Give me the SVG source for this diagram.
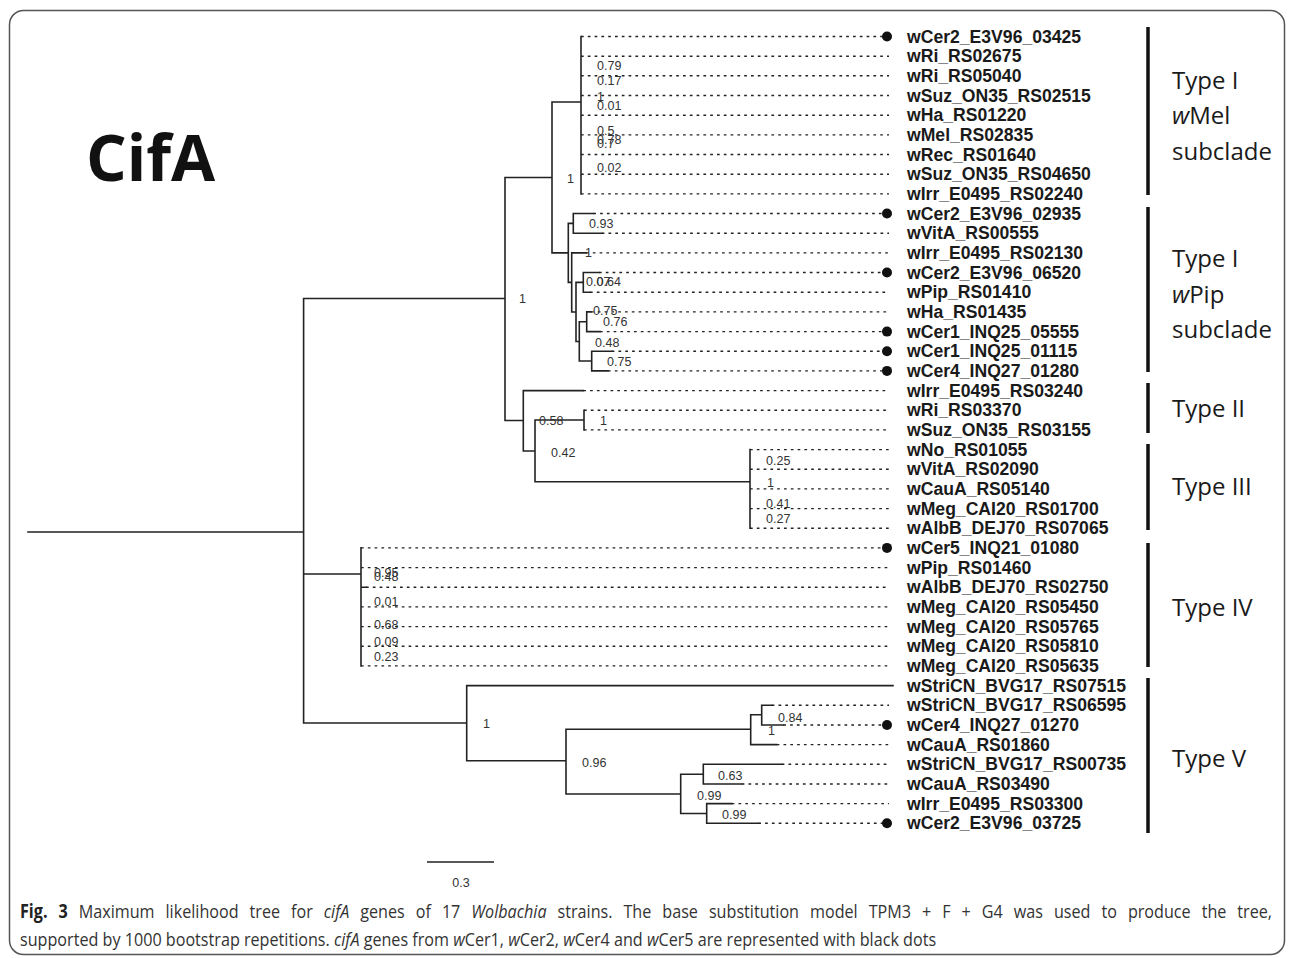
<svg xmlns="http://www.w3.org/2000/svg" width="1293" height="958" viewBox="0 0 1293 958">
<style>
.br{stroke:#222;stroke-width:1.6;fill:none;stroke-linecap:square}
.dt{stroke:#222;stroke-width:1.4;stroke-dasharray:2.7 4.1;fill:none}
.lf{font-family:"Liberation Sans",Arial,sans-serif;font-weight:bold;font-size:17.6px;fill:#1a1a1a}
.sp{font-family:"Liberation Sans",Arial,sans-serif;font-size:12.5px;fill:#333}
.ty{font-family:"Open Sans",sans-serif;font-size:24px;fill:#1a1a1a}
.cap{font-family:"Open Sans",sans-serif;font-size:19px;fill:#333}
.dot{fill:#111}
.bar{stroke:#111;stroke-width:3.5}
</style>
<rect x="9.5" y="10.5" width="1275" height="944" rx="14" fill="#fff" stroke="#555" stroke-width="1.5"/>
<text x="86" y="181" font-family="Open Sans, sans-serif" font-weight="bold" font-size="64" fill="#111">CifA</text>

<g id="connectors">
<path class="br" d="M28,532H303.6 M303.6,298.5V723 M303.6,298.5H505 M505,177.5V420.5 M505,177.5H552 M552,102V252.9 M552,102H581 M581,36.5V193.9
M552,252.9H568.3 M568.3,223.4V282.4 M568.3,223.4H573.3 M573.3,213.5V233.2 M573.3,213.5H593.3 M573.3,233.2H601.7
M568.3,282.4H571.7 M571.7,252.9V312 M571.7,252.9H586 M571.7,312H576 M576,282.4V341.5 M576,282.4H583.3 M583.3,272.5V292.2 M583.3,272.5H599 M583.3,292.2H590
M576,341.5H579.3 M579.3,321.7V361 M579.3,321.7H586.7 M586.7,311.9V331.6 M586.7,311.9H591 M586.7,331.6H600 M579.3,361H591.7 M591.7,351.2V370.9 M591.7,351.2H611.7 M591.7,370.9H608
M505,420.5H523.3 M523.3,390.6V451 M523.3,390.6H583.3 M523.3,451H535 M535,420V481.7 M535,420H584 M584,410.2V429.9 M535,481.7H750 M750,449.6V528.3
M303.6,574H361 M361,547.9V665.9 M361,587.3H366
M303.6,723H466.7 M466.7,685.6V760.7 M466.7,685.6H893 M466.7,760.7H566 M566,729.3V794 M566,729.3H750.7 M750.7,714.7V744.6 M750.7,714.7H761.7 M761.7,705.3V725 M761.7,705.3H771.7 M761.7,725H783.3 M750.7,744.6H776.7
M566,794H680.7 M680.7,774.2V813.5 M680.7,774.2H703.3 M703.3,764.3V784 M703.3,764.3H781.7 M703.3,784H741.7 M680.7,813.5H706.7 M706.7,803.6V823.3 M706.7,803.6H731.7 M706.7,823.3H758.3"/>
<path class="dt" d="M581,36.5H889 M581,56.2H889 M581,75.8H889 M581,95.5H889 M581,115.2H889 M581,134.9H889 M581,154.5H889 M581,174.2H889 M581,193.9H889
M593.3,213.5H889 M601.7,233.2H889 M586,252.9H889 M599,272.5H889 M590,292.2H889 M591,311.9H889 M600,331.6H889 M611.7,351.2H889 M608,370.9H889
M583.3,390.6H889 M584,410.2H889 M584,429.9H889 M750,449.6H889 M750,469.2H889 M750,488.9H889 M750,508.6H889 M750,528.3H889
M361,547.9H889 M361,567.6H889 M366,587.3H889 M361,606.9H889 M361,626.6H889 M361,646.3H889 M361,665.9H889
M771.7,705.3H889 M783.3,725H889 M776.7,744.6H889 M781.7,764.3H889 M741.7,784H889 M731.7,803.6H889 M758.3,823.3H889"/>
</g>

<g id="support-values" class="sp">
<text x="597" y="70">0.79</text><text x="597" y="85">0.17</text><text x="597" y="101">1</text><text x="597" y="110">0.01</text>
<text x="597" y="135">0.5</text><text x="597" y="144">0.78</text><text x="597" y="148">0.7</text><text x="597" y="172">0.02</text>
<text x="567" y="183">1</text><text x="519" y="303">1</text>
<text x="589" y="228">0.93</text><text x="585" y="257">1</text><text x="586" y="286">0.07</text><text x="596.5" y="286">0.64</text>
<text x="593" y="315">0.75</text><text x="603" y="326">0.76</text><text x="595" y="347">0.48</text><text x="607" y="366">0.75</text>
<text x="539" y="425">0.58</text><text x="600" y="425">1</text><text x="551" y="457">0.42</text>
<text x="766" y="465">0.25</text><text x="767" y="487">1</text><text x="766" y="508">0.41</text><text x="766" y="523">0.27</text>
<text x="374" y="577">0.95</text><text x="374" y="581">0.48</text><text x="374" y="606">0.01</text><text x="374" y="629">0.68</text><text x="374" y="646">0.09</text><text x="374" y="661">0.23</text>
<text x="483" y="728">1</text><text x="778" y="722">0.84</text><text x="768" y="735">1</text><text x="582" y="767">0.96</text>
<text x="718" y="780">0.63</text><text x="697" y="800">0.99</text><text x="722" y="819">0.99</text>
</g>

<g id="leaves" class="lf">
<g id="n0"><circle class="dot" cx="887" cy="36.5" r="5"/><text x="907" y="42.5">wCer2_E3V96_03425</text></g>
<g id="n1"><text x="907" y="62.2">wRi_RS02675</text></g>
<g id="n2"><text x="907" y="81.8">wRi_RS05040</text></g>
<g id="n3"><text x="907" y="101.5">wSuz_ON35_RS02515</text></g>
<g id="n4"><text x="907" y="121.2">wHa_RS01220</text></g>
<g id="n5"><text x="907" y="140.9">wMel_RS02835</text></g>
<g id="n6"><text x="907" y="160.5">wRec_RS01640</text></g>
<g id="n7"><text x="907" y="180.2">wSuz_ON35_RS04650</text></g>
<g id="n8"><text x="907" y="199.9">wIrr_E0495_RS02240</text></g>
<g id="n9"><circle class="dot" cx="887" cy="213.5" r="5"/><text x="907" y="219.5">wCer2_E3V96_02935</text></g>
<g id="n10"><text x="907" y="239.2">wVitA_RS00555</text></g>
<g id="n11"><text x="907" y="258.9">wIrr_E0495_RS02130</text></g>
<g id="n12"><circle class="dot" cx="887" cy="272.5" r="5"/><text x="907" y="278.5">wCer2_E3V96_06520</text></g>
<g id="n13"><text x="907" y="298.2">wPip_RS01410</text></g>
<g id="n14"><text x="907" y="317.9">wHa_RS01435</text></g>
<g id="n15"><circle class="dot" cx="887" cy="331.6" r="5"/><text x="907" y="337.6">wCer1_INQ25_05555</text></g>
<g id="n16"><circle class="dot" cx="887" cy="351.2" r="5"/><text x="907" y="357.2">wCer1_INQ25_01115</text></g>
<g id="n17"><circle class="dot" cx="887" cy="370.9" r="5"/><text x="907" y="376.9">wCer4_INQ27_01280</text></g>
<g id="n18"><text x="907" y="396.6">wIrr_E0495_RS03240</text></g>
<g id="n19"><text x="907" y="416.2">wRi_RS03370</text></g>
<g id="n20"><text x="907" y="435.9">wSuz_ON35_RS03155</text></g>
<g id="n21"><text x="907" y="455.6">wNo_RS01055</text></g>
<g id="n22"><text x="907" y="475.2">wVitA_RS02090</text></g>
<g id="n23"><text x="907" y="494.9">wCauA_RS05140</text></g>
<g id="n24"><text x="907" y="514.6">wMeg_CAI20_RS01700</text></g>
<g id="n25"><text x="907" y="534.3">wAlbB_DEJ70_RS07065</text></g>
<g id="n26"><circle class="dot" cx="887" cy="547.9" r="5"/><text x="907" y="553.9">wCer5_INQ21_01080</text></g>
<g id="n27"><text x="907" y="573.6">wPip_RS01460</text></g>
<g id="n28"><text x="907" y="593.3">wAlbB_DEJ70_RS02750</text></g>
<g id="n29"><text x="907" y="612.9">wMeg_CAI20_RS05450</text></g>
<g id="n30"><text x="907" y="632.6">wMeg_CAI20_RS05765</text></g>
<g id="n31"><text x="907" y="652.3">wMeg_CAI20_RS05810</text></g>
<g id="n32"><text x="907" y="671.9">wMeg_CAI20_RS05635</text></g>
<g id="n33"><text x="907" y="691.6">wStriCN_BVG17_RS07515</text></g>
<g id="n34"><text x="907" y="711.3">wStriCN_BVG17_RS06595</text></g>
<g id="n35"><circle class="dot" cx="887" cy="725" r="5"/><text x="907" y="731">wCer4_INQ27_01270</text></g>
<g id="n36"><text x="907" y="750.6">wCauA_RS01860</text></g>
<g id="n37"><text x="907" y="770.3">wStriCN_BVG17_RS00735</text></g>
<g id="n38"><text x="907" y="790">wCauA_RS03490</text></g>
<g id="n39"><text x="907" y="809.6">wIrr_E0495_RS03300</text></g>
<g id="n40"><circle class="dot" cx="887" cy="823.3" r="5"/><text x="907" y="829.3">wCer2_E3V96_03725</text></g>
</g>

<g id="types" class="ty">
<g id="type-I-wMel"><line class="bar" x1="1148" y1="27" x2="1148" y2="195"/><text x="1172" y="89">Type I</text><text x="1172" y="124"><tspan font-style="italic">w</tspan>Mel</text><text x="1172" y="160">subclade</text></g>
<g id="type-I-wPip"><line class="bar" x1="1148" y1="207" x2="1148" y2="372"/><text x="1172" y="267">Type I</text><text x="1172" y="303"><tspan font-style="italic">w</tspan>Pip</text><text x="1172" y="338">subclade</text></g>
<g id="type-II"><line class="bar" x1="1148" y1="383" x2="1148" y2="433"/><text x="1172" y="417">Type II</text></g>
<g id="type-III"><line class="bar" x1="1148" y1="444" x2="1148" y2="530"/><text x="1172" y="495">Type III</text></g>
<g id="type-IV"><line class="bar" x1="1148" y1="543" x2="1148" y2="667"/><text x="1172" y="616">Type IV</text></g>
<g id="type-V"><line class="bar" x1="1148" y1="678" x2="1148" y2="833"/><text x="1172" y="767">Type V</text></g>
</g>

<g id="scale-bar">
<line x1="427" y1="862" x2="494" y2="862" stroke="#222" stroke-width="1.6"/>
<text class="sp" x="461" y="887" text-anchor="middle">0.3</text>
</g>

<g id="caption" class="cap" transform="translate(20,0) scale(0.85,1)">
<text x="0" y="918" word-spacing="8"><tspan font-weight="bold" fill="#222">Fig. 3</tspan> Maximum likelihood tree for <tspan font-style="italic">cifA</tspan> genes of 17 <tspan font-style="italic">Wolbachia</tspan> strains. The base substitution model TPM3 + F + G4 was used to produce the tree,</text>
<text x="0" y="946">supported by 1000 bootstrap repetitions. <tspan font-style="italic">cifA</tspan> genes from <tspan font-style="italic">w</tspan>Cer1, <tspan font-style="italic">w</tspan>Cer2, <tspan font-style="italic">w</tspan>Cer4 and <tspan font-style="italic">w</tspan>Cer5 are represented with black dots</text>
</g>
</svg>
